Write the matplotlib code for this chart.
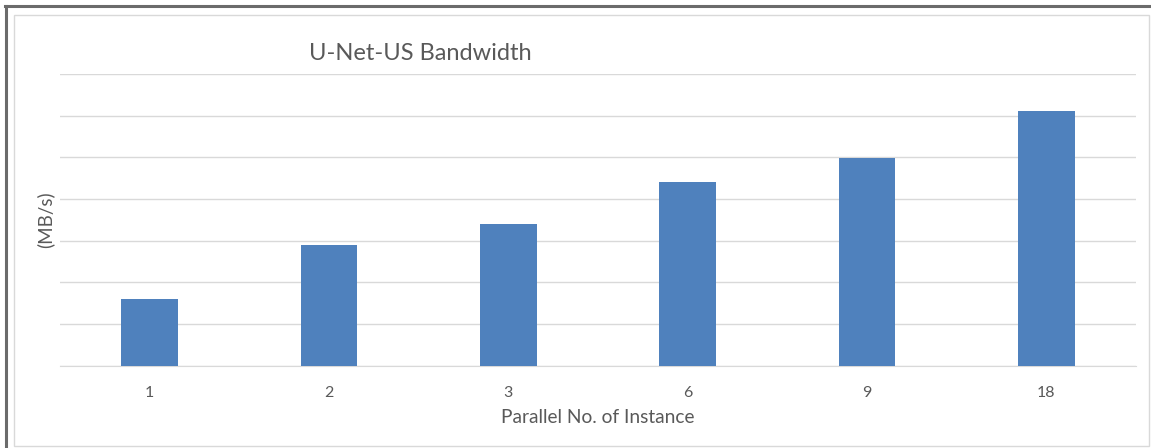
import matplotlib.pyplot as plt
from matplotlib.lines import Line2D
from matplotlib.patches import Rectangle

instances = ["1", "2", "3", "6", "9", "18"]
bandwidth = [1.59, 2.89, 3.40, 4.41, 4.99, 6.11]

W, H = 1151, 448
plt.rcParams["font.family"] = ["Lato", "DejaVu Sans"]

fig = plt.figure(figsize=(W / 100, H / 100), dpi=100)

# window frame: dark outer edge, light inner chart border
fig.add_artist(Line2D([5 / W, 1], [1 - 6.5 / H, 1 - 6.5 / H], color="#6b6b6b", lw=2.2))
fig.add_artist(Line2D([6 / W, 6 / W], [0, 1 - 6.5 / H], color="#6b6b6b", lw=2.2))
fig.add_artist(Rectangle((14 / W, 2.5 / H), 1135 / W, 1 - 17.5 / H,
                         fill=False, edgecolor="#d9d9d9", lw=1.0))

ax = fig.add_axes([60 / W, 1 - 365.5 / H, 1076 / W, (365.5 - 74) / H])
x = range(len(instances))
ax.bar(x, bandwidth, width=0.315, color="#4f81bd", zorder=3)

ax.set_xlim(-0.5, len(instances) - 0.5)
ax.set_ylim(0, 7)
ax.set_yticks(range(8))
ax.set_yticklabels([])
ax.tick_params(axis="y", length=0)
ax.tick_params(axis="x", length=0, pad=15, labelsize=11.5, labelcolor="#595959")
ax.set_xticks(list(x))
ax.set_xticklabels(instances)
ax.grid(axis="y", color="#d9d9d9", lw=1.0, zorder=0)
for s in ["top", "right", "left"]:
    ax.spines[s].set_visible(False)
ax.spines["bottom"].set_color("#d9d9d9")

ax.set_xlabel("Parallel No. of Instance", fontsize=13.8, color="#595959", labelpad=6)
ax.set_ylabel("(MB/s)", fontsize=13.5, color="#595959", va="center")
ax.yaxis.set_label_coords(-15 / 1076, 0.5)

fig.text(309 / W, 1 - 53 / H, "U-Net-US Bandwidth", fontsize=17,
         color="#595959", va="center", ha="left")

fig.savefig("out.png", dpi=100)
